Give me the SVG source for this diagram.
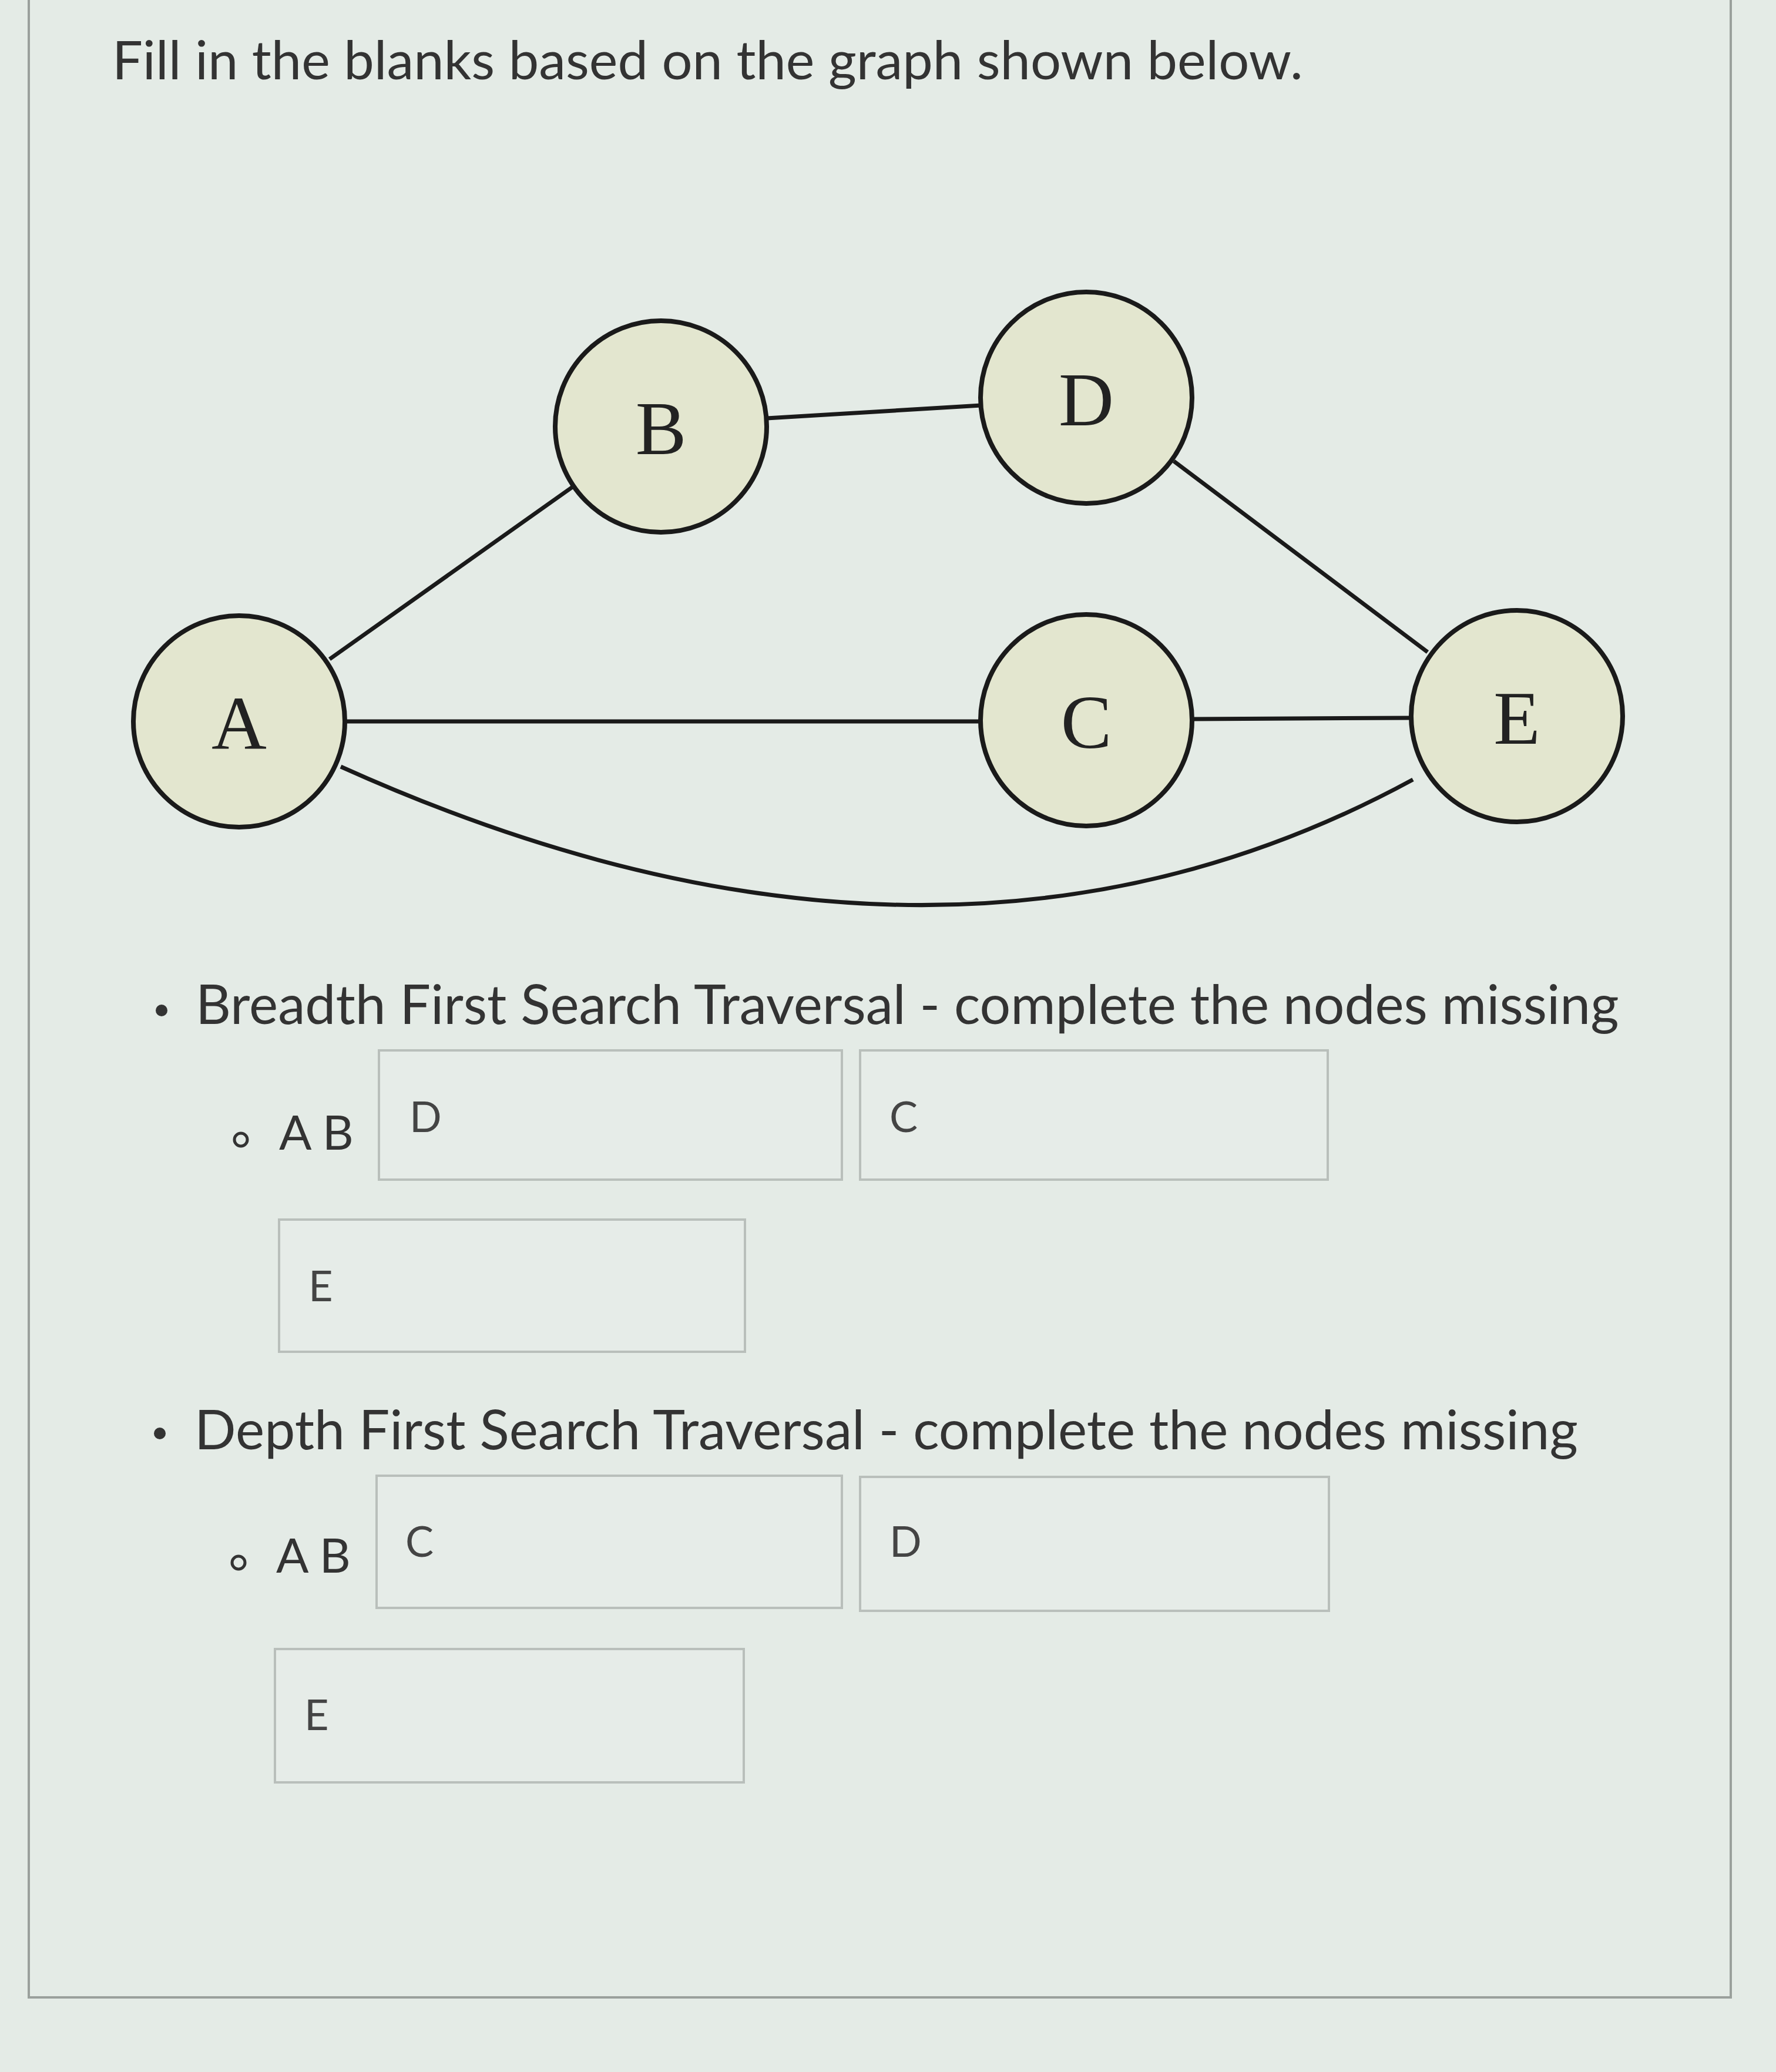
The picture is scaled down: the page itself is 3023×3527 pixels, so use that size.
<svg xmlns="http://www.w3.org/2000/svg" width="3023" height="3527" viewBox="0 0 3023 3527">
<style>
.n{fill:#e3e6cf;stroke:#1a1a1a;stroke-width:8}
.nl{font-family:"Liberation Serif",serif;font-size:130px;fill:#222;text-anchor:middle}
.e{stroke:#1a1a1a;stroke-width:7;fill:none}
.t{font-family:Lato,"Liberation Sans",sans-serif;fill:#333}
.b{fill:#e6ece8;stroke:#b9bfbb;stroke-width:4}
.a{font-family:Lato,"Liberation Sans",sans-serif;font-size:72px;fill:#444}
</style>
<rect width="3023" height="3527" fill="#e4ebe6"/>
<path d="M49 0 V3400 H2946 V0" fill="none" stroke="#9aa09c" stroke-width="4"/>
<text class="t" x="191" y="135" font-size="92">Fill in the blanks based on the graph shown below.</text>
<g id="connectors">
<line class="e" x1="561" y1="1122" x2="980" y2="825"/>
<line class="e" x1="1305" y1="712" x2="1670" y2="690"/>
<line class="e" x1="1998" y1="785" x2="2430" y2="1110"/>
<line class="e" x1="587" y1="1228" x2="1669" y2="1228"/>
<line class="e" x1="2029" y1="1224" x2="2402" y2="1222"/>
<path class="e" d="M580 1305 Q1600 1765 2405 1327"/>
</g>
<g id="A"><circle class="n" cx="407" cy="1228" r="180"/><text class="nl" x="407" y="1275">A</text></g>
<g id="B"><circle class="n" cx="1125" cy="726" r="180"/><text class="nl" x="1125" y="773">B</text></g>
<g id="D"><circle class="n" cx="1849" cy="677" r="180"/><text class="nl" x="1849" y="724">D</text></g>
<g id="C"><circle class="n" cx="1849" cy="1226" r="180"/><text class="nl" x="1849" y="1273">C</text></g>
<g id="E"><circle class="n" cx="2582" cy="1219" r="180"/><text class="nl" x="2582" y="1266">E</text></g>
<circle cx="275" cy="1720" r="10" fill="#333"/>
<text class="t" x="333" y="1743" font-size="93">Breadth First Search Traversal - complete the nodes missing</text>
<circle cx="410" cy="1940" r="11" fill="none" stroke="#333" stroke-width="5"/>
<text class="t" x="475" y="1957" font-size="82">A B</text>
<rect class="b" x="645" y="1788" width="788" height="220"/><text class="a" x="697" y="1927">D</text>
<rect class="b" x="1464" y="1788" width="796" height="220"/><text class="a" x="1514" y="1927">C</text>
<rect class="b" x="475" y="2076" width="793" height="225"/><text class="a" x="525" y="2215">E</text>
<circle cx="272" cy="2440" r="10" fill="#333"/>
<text class="t" x="331" y="2467" font-size="93">Depth First Search Traversal - complete the nodes missing</text>
<circle cx="406" cy="2660" r="11" fill="none" stroke="#333" stroke-width="5"/>
<text class="t" x="470" y="2677" font-size="82">A B</text>
<rect class="b" x="641" y="2512" width="792" height="225"/><text class="a" x="690" y="2650">C</text>
<rect class="b" x="1464" y="2514" width="798" height="228"/><text class="a" x="1514" y="2650">D</text>
<rect class="b" x="468" y="2807" width="798" height="227"/><text class="a" x="518" y="2945">E</text>
</svg>
